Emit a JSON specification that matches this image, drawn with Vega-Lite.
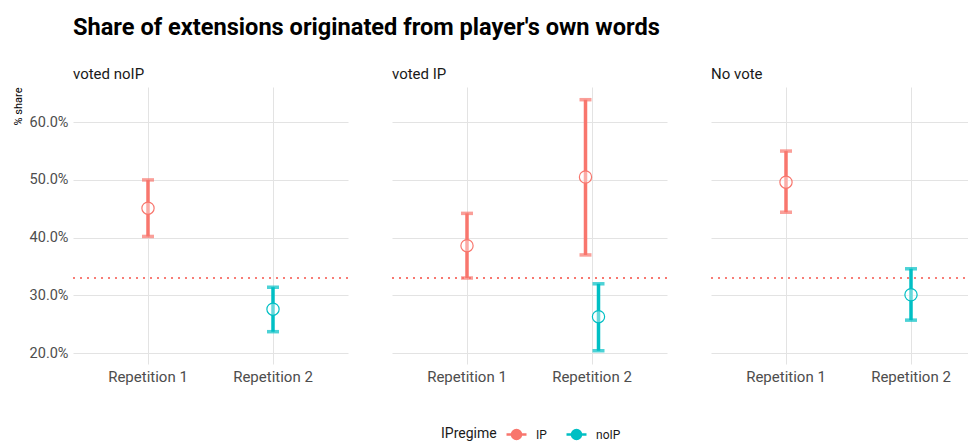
{
  "$schema": "https://vega.github.io/schema/vega-lite/v6.json",
  "background": "white",
  "padding": {"left": 12, "top": 16, "right": 2, "bottom": 0},
  "title": {"text": "Share of extensions originated from player's own words", "anchor": "start", "frame": "group", "fontSize": 23.6, "font": "Roboto", "fontWeight": "bold", "color": "#000000", "offset": 27},
  "data": {"values": [
    {"vote": "voted noIP", "rep": "Repetition 1", "regime": "IP", "dodge": 0, "share": 0.451, "lo": 0.402, "hi": 0.500},
    {"vote": "voted noIP", "rep": "Repetition 2", "regime": "noIP", "dodge": 0, "share": 0.276, "lo": 0.237, "hi": 0.314},
    {"vote": "voted IP", "rep": "Repetition 1", "regime": "IP", "dodge": 0, "share": 0.386, "lo": 0.330, "hi": 0.442},
    {"vote": "voted IP", "rep": "Repetition 2", "regime": "IP", "dodge": -1, "share": 0.505, "lo": 0.370, "hi": 0.639},
    {"vote": "voted IP", "rep": "Repetition 2", "regime": "noIP", "dodge": 1, "share": 0.263, "lo": 0.204, "hi": 0.320},
    {"vote": "No vote", "rep": "Repetition 1", "regime": "IP", "dodge": 0, "share": 0.496, "lo": 0.444, "hi": 0.550},
    {"vote": "No vote", "rep": "Repetition 2", "regime": "noIP", "dodge": 0, "share": 0.301, "lo": 0.257, "hi": 0.346}
  ]},
  "facet": {"column": {"field": "vote", "type": "nominal", "sort": ["voted noIP", "voted IP", "No vote"],
    "header": {"title": null, "labelAnchor": "start", "labelAlign": "left", "labelFontSize": 15, "labelFont": "Roboto", "labelColor": "#1a1a1a", "labelPadding": 5, "labelExpr": "'\u2002' + datum.value"}}},
  "spacing": 42,
  "spec": {
    "width": 275,
    "height": 277,
    "layer": [
      {"mark": {"type": "rule", "strokeWidth": 3.5},
       "encoding": {
         "x": {"field": "rep", "type": "ordinal", "scale": {"type": "band", "paddingInner": 0, "paddingOuter": 0.1}, "axis": {"title": null, "grid": true, "bandPosition": 0.5, "labelFontSize": 15, "labelPadding": 5, "labelAngle": 0}},
         "xOffset": {"field": "dodge", "type": "quantitative", "scale": {"domain": [-1, 1], "range": [56, 69]}},
         "y": {"field": "lo", "type": "quantitative", "scale": {"domain": [0.181, 0.661], "nice": false, "zero": false},
           "axis": {"title": "% share", "titleAnchor": "end", "titleFontSize": 11, "titleFontWeight": "normal", "titleColor": "#000000", "titlePadding": 6,
             "values": [0.2, 0.25, 0.3, 0.35, 0.4, 0.45, 0.5, 0.55, 0.6, 0.65], "labelFontSize": 14.5, "labelPadding": 4,
             "labelExpr": "round(datum.value*100) % 10 == 0 ? format(datum.value, '.1%') : ''"}},
         "y2": {"field": "hi"},
         "color": {"field": "regime", "type": "nominal", "scale": {"domain": ["IP", "noIP"], "range": ["#F8766D", "#00BFC4"]},
           "legend": {"title": "IPregime", "orient": "none", "legendX": 368, "legendY": 336, "direction": "horizontal", "titleOrient": "left", "titleFontSize": 14, "titleFontWeight": "normal", "titleColor": "#1a1a1a", "titlePadding": 8, "labelFontSize": 12, "labelColor": "#1a1a1a", "labelFont": "Roboto", "titleFont": "Roboto", "symbolType": "M-1,0L-0.45,0M0.45,0L1,0M0.45,0A0.45,0.45,0,1,1,-0.45,0A0.45,0.45,0,1,1,0.45,0", "symbolSize": 400, "symbolStrokeWidth": 2.5, "columnPadding": 14, "labelOffset": 8,
             "encode": {"symbols": {"update": {"fill": {"value": "transparent"}, "strokeWidth": {"value": 2.5}}}}}}
       }},
      {"mark": {"type": "tick", "size": 12, "thickness": 3.5},
       "encoding": {
         "x": {"field": "rep", "type": "ordinal"},
         "xOffset": {"field": "dodge", "type": "quantitative"},
         "y": {"field": "lo", "type": "quantitative"},
         "color": {"field": "regime", "type": "nominal"}
       }},
      {"mark": {"type": "tick", "size": 12, "thickness": 3.5},
       "encoding": {
         "x": {"field": "rep", "type": "ordinal"},
         "xOffset": {"field": "dodge", "type": "quantitative"},
         "y": {"field": "hi", "type": "quantitative"},
         "color": {"field": "regime", "type": "nominal"}
       }},
      {"mark": {"type": "point", "shape": "circle", "filled": false, "size": 150, "strokeWidth": 1.2, "fill": "white", "fillOpacity": 0.4, "opacity": 1},
       "encoding": {
         "x": {"field": "rep", "type": "ordinal"},
         "xOffset": {"field": "dodge", "type": "quantitative"},
         "y": {"field": "share", "type": "quantitative"},
         "color": {"field": "regime", "type": "nominal"}
       }},
      {"mark": {"type": "rule", "color": "#F8766D", "strokeDash": [2, 5], "strokeWidth": 1.5},
       "encoding": {"y": {"datum": 0.33}}}
    ]
  },
  "config": {
    "view": {"stroke": null},
    "font": "Roboto",
    "axis": {"gridColor": "#e3e3e3", "gridWidth": 1, "domain": false, "ticks": false, "labelFont": "Roboto", "labelColor": "#4d4d4d", "titleFont": "Roboto"}
  }
}
